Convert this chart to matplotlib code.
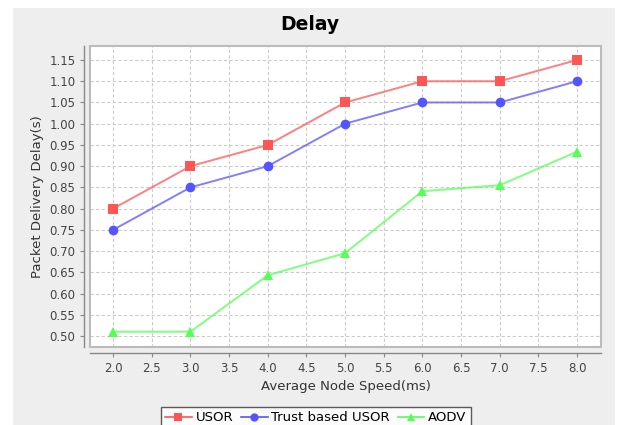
import matplotlib.pyplot as plt
from matplotlib.patches import Rectangle
from matplotlib.lines import Line2D

# data
speed = [2.0, 3.0, 4.0, 5.0, 6.0, 7.0, 8.0]
usor = [0.80, 0.90, 0.95, 1.05, 1.10, 1.10, 1.15]
trust_usor = [0.75, 0.85, 0.90, 1.00, 1.05, 1.05, 1.10]
aodv = [0.51, 0.51, 0.643, 0.695, 0.841, 0.855, 0.934]

x_ticks = [2.0 + 0.5 * i for i in range(13)]
y_ticks = [0.50 + 0.05 * i for i in range(14)]

plt.rcParams["font.family"] = ["DejaVu Sans"]

W, H = 620, 425
fig = plt.figure(figsize=(6.2, 4.25), dpi=100)
fig.patch.set_facecolor("white")
# grey chart background (white strip on left/top/right like the reference)
fig.add_artist(Rectangle((13 / W, 0), (615 - 13) / W, (H - 8) / H,
                         transform=fig.transFigure, facecolor="#eeeeee",
                         edgecolor="none", zorder=-10))

ax = fig.add_axes([90 / W, 1 - 347 / H, (601 - 90) / W, (347 - 46) / H])
ax.set_facecolor("white")

series = [
    ("USOR", usor, "#ff5555", "s", 6.5),
    ("Trust based USOR", trust_usor, "#5555ff", "o", 7),
    ("AODV", aodv, "#55ff55", "^", 7),
]
handles = []
for name, vals, col, mk, ms in series:
    ax.plot(speed, vals, color=col, alpha=0.75, linewidth=1.4, zorder=3)
    ax.plot(speed, vals, linestyle="none", marker=mk, markersize=ms,
            color=col, markeredgewidth=0, zorder=4)
    handles.append(Line2D([], [], color=col, marker=mk, markersize=6,
                          markeredgewidth=0, linewidth=1.2, label=name))

ax.set_xlim(1.70, 8.31)
ax.set_ylim(0.474, 1.183)
ax.set_xticks(x_ticks)
ax.set_yticks(y_ticks)
ax.set_xticklabels([f"{v:.1f}" for v in x_ticks])
ax.set_yticklabels([f"{v:.2f}" for v in y_ticks])
ax.grid(True, color="#cccccc", linestyle=(0, (3, 2)), linewidth=0.8)
ax.set_axisbelow(True)

for side in ["top", "right"]:
    ax.spines[side].set_visible(False)
for side in ["left", "bottom"]:
    ax.spines[side].set_position(("outward", 4))
    ax.spines[side].set_color("#888888")
    ax.spines[side].set_linewidth(1)
# plot outline
ax.add_patch(Rectangle((0, 0), 1, 1, transform=ax.transAxes, fill=False,
                       edgecolor="#bbbbbb", linewidth=1.5, clip_on=False,
                       zorder=5))

ax.tick_params(axis="both", colors="#888888", labelcolor="#444444",
               labelsize=8.5, length=3, width=0.8)
ax.set_xlabel("Average Node Speed(ms)", fontsize=9.5, color="#333333",
              labelpad=4)
ax.set_ylabel("Packet Delivery Delay(s)", fontsize=9.5, color="#333333",
              labelpad=4)

fig.text(0.5, 1 - 24 / H, "Delay", ha="center", va="center",
         fontsize=13.5, fontweight="bold", color="black")

leg = fig.legend(handles=handles, loc="upper center",
                 bbox_to_anchor=(316 / W, 1 - 400 / H), ncol=3,
                 frameon=True, fancybox=False, fontsize=9.5,
                 handlelength=2.0, handletextpad=0.3, columnspacing=0.6,
                 borderpad=0.35)
leg.get_frame().set_edgecolor("#333333")
leg.get_frame().set_linewidth(1)
leg.get_frame().set_facecolor("white")

fig.savefig("out.png", dpi=100)
